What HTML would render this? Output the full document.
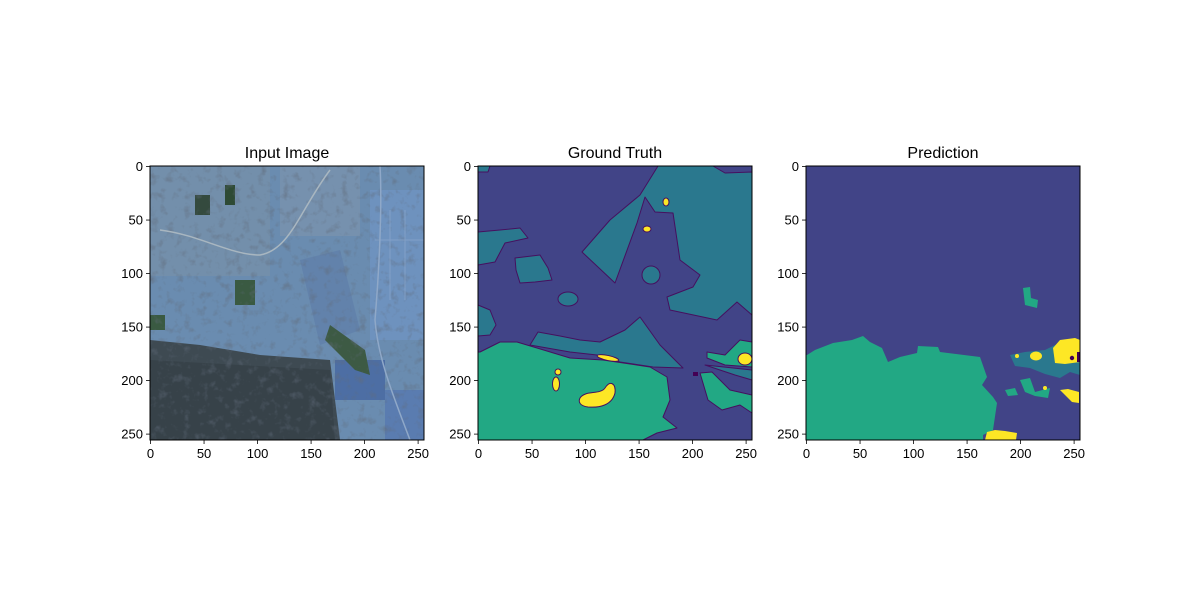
<!DOCTYPE html>
<html><head><meta charset="utf-8"><style>
body{margin:0;background:#fff}
svg text{font-family:"Liberation Sans","DejaVu Sans",sans-serif}
</style></head><body>
<svg id="fig" width="1200" height="600" viewBox="0 0 1200 600" xmlns="http://www.w3.org/2000/svg">
<defs>
<filter id="tex" x="0" y="0" width="100%" height="100%">
<feTurbulence type="fractalNoise" baseFrequency="0.12" numOctaves="3" seed="4"/>
<feColorMatrix type="matrix" values="0 0 0 0 0.12  0 0 0 0 0.15  0 0 0 0 0.2  0 0 0 -1.8 0.85"/>
</filter>
<clipPath id="c1"><rect x="150" y="166" width="274" height="274"/></clipPath>
</defs>
<rect width="1200" height="600" fill="#fff"/>

<!-- Panel 1: input image -->
<g clip-path="url(#c1)">
<rect x="150" y="166" width="274" height="274" fill="#6a8cb0"/>
<rect x="150" y="166" width="120" height="110" fill="#7890aa" opacity="0.7"/>
<rect x="280" y="166" width="80" height="70" fill="#7f95ae" opacity="0.6"/>
<rect x="370" y="190" width="54" height="150" fill="#6f93c2" opacity="0.8"/>
<polygon points="150,340 200,345 260,355 330,360 340,440 150,440" fill="#3e4a52"/>
<polygon points="150,360 330,370 335,440 150,440" fill="#374249"/>
<rect x="335" y="360" width="50" height="40" fill="#4d6ea4"/>
<rect x="385" y="390" width="40" height="50" fill="#5a7cb0"/>
<polygon points="300,260 340,250 360,330 320,345" fill="#5f7eaa" opacity="0.7"/>
<rect x="195" y="195" width="15" height="20" fill="#344a3e"/>
<rect x="225" y="185" width="10" height="20" fill="#2e4a34"/>
<rect x="235" y="280" width="20" height="25" fill="#3a5a42"/>
<polygon points="330,325 365,350 370,375 355,370 325,340" fill="#3d5a44"/>
<rect x="150" y="315" width="15" height="15" fill="#3a5a42"/>
<rect x="150" y="166" width="274" height="274" filter="url(#tex)" opacity="0.8"/>
<path d="M160,230 C200,235 230,255 260,255 C290,250 300,210 330,170" stroke="#a8b6c0" stroke-width="1.5" fill="none"/>
<path d="M380,166 C382,200 380,260 375,320 C378,360 395,400 410,440" stroke="#8fa8c8" stroke-width="1.5" fill="none"/>
<path d="M375,240 L424,240 M390,210 L390,300 M405,210 L405,300" stroke="#8aa6cc" stroke-width="1" fill="none" opacity="0.7"/>
</g>

<!-- Panel 2: ground truth -->
<g stroke="#46105f" stroke-width="1" stroke-linejoin="round">
<rect x="478" y="166" width="274" height="274" fill="#414487" stroke="none"/>
<polygon points="658,166 713,166 725,173 752,172 752,315 737,302 717,320 670,310 667,297 693,287 700,275 680,260 673,213 655,212 645,197 637,223 615,283 582,252 610,220 640,195" fill="#2a788e"/>
<ellipse cx="651" cy="275" rx="9" ry="9" fill="#2a788e"/>
<polygon points="478,232 500,230 520,228 528,238 505,243 495,262 478,265" fill="#2a788e"/>
<polygon points="515,258 540,255 548,268 552,280 535,282 520,283 516,270" fill="#2a788e"/>
<ellipse cx="568" cy="299" rx="10" ry="7" fill="#2a788e"/>
<polygon points="478,305 490,310 496,325 490,335 478,336" fill="#2a788e"/>
<polygon points="478,166 490,166 488,172 478,172" fill="#2a788e"/>
<polygon points="538,332 560,336 580,340 600,342 625,330 640,317 660,345 683,368 653,367 620,362 597,355 570,352 530,345" fill="#2a788e"/>
<polygon points="480,352 500,342 517,342 537,348 570,358 603,360 650,367 667,377 670,400 663,417 677,428 657,433 643,440 478,440 478,352" fill="#22a884"/>
<polygon points="707,352 725,355 740,340 752,342 752,367 725,365 707,358" fill="#22a884"/>
<polygon points="700,373 712,372 730,390 752,395 752,413 740,405 722,410 708,400" fill="#22a884"/>
<polygon points="705,365 752,370 752,380 735,375" fill="#2a788e"/>
<path d="M580,398 C585,390 600,395 605,388 C610,380 616,383 615,393 C612,405 600,408 588,407 C580,406 578,402 580,398 Z" fill="#fde725"/>
<ellipse cx="556" cy="384" rx="3.5" ry="7" fill="#fde725"/>
<ellipse cx="558" cy="372" rx="3" ry="3" fill="#fde725"/>
<ellipse cx="608" cy="358" rx="11" ry="2.5" fill="#fde725" transform="rotate(12 608 358)"/>
<ellipse cx="745" cy="359" rx="7" ry="6" fill="#fde725"/>
<ellipse cx="666" cy="202" rx="3" ry="4" fill="#fde725"/>
<ellipse cx="647" cy="229" rx="4" ry="3" fill="#fde725"/>
<rect x="693" y="372" width="5" height="4" fill="#440154" stroke="none"/>
</g>

<!-- Panel 3: prediction -->
<g>
<rect x="806" y="166" width="274" height="274" fill="#414487"/>
<polygon points="807,355 815,350 833,343 852,340 863,336 870,342 882,348 888,362 900,357 917,353 918,346 938,347 940,352 980,357 987,377 982,385 993,397 997,403 993,430 983,435 983,440 806,440 806,355" fill="#22a884"/>
<polygon points="1023,288 1030,287 1031,298 1038,300 1037,308 1025,305" fill="#22a884"/>
<polygon points="1010,355 1025,352 1045,350 1055,345 1075,338 1080,340 1080,375 1070,372 1060,378 1045,374 1030,368 1015,366" fill="#2a788e"/>
<polygon points="1020,380 1030,378 1035,392 1050,388 1048,398 1035,396 1025,392" fill="#22a884"/>
<polygon points="1005,390 1015,388 1018,395 1008,396" fill="#22a884"/>
<polygon points="1053,348 1060,340 1075,338 1080,340 1080,362 1065,364 1055,363" fill="#fde725"/>
<ellipse cx="1036" cy="356" rx="6" ry="4.5" fill="#fde725"/>
<polygon points="1060,390 1068,389 1079,392 1079,403 1072,402" fill="#fde725"/>
<polygon points="987,432 995,430 1005,431 1017,433 1016,440 985,440" fill="#fde725"/>
<circle cx="1017" cy="356" r="2" fill="#fde725"/>
<circle cx="1045" cy="388" r="2" fill="#fde725"/>
<circle cx="1072" cy="358" r="2.2" fill="#440154"/>
<rect x="1077" y="352" width="3" height="10" fill="#440154"/>
</g>

<g id="axes"></g>

<script>
const tickValues = [0, 50, 100, 150, 200, 250];
const panelTitles = ["Input Image", "Ground Truth", "Prediction"];
const panelLefts = [150, 478, 806];
const imgSize = 256;
const top0 = 166, side = 274;
const NS = "http://www.w3.org/2000/svg";
const g = document.getElementById('axes');
function mk(t, a){const e=document.createElementNS(NS,t);for(const k in a)e.setAttribute(k,a[k]);g.appendChild(e);return e;}
panelLefts.forEach((L, i) => {
  const sx = v => L + (v + 0.5) * side / imgSize;
  const sy = v => top0 + (v + 0.5) * side / imgSize;
  const fr = mk('rect', {x:L, y:top0, width:side, height:side, fill:'none', stroke:'#000', 'stroke-width':1});
  
  
  const t = mk('text', {x:L + side/2, y:158, 'text-anchor':'middle', 'font-size':16, fill:'#000'});
  t.textContent = panelTitles[i];
  
  
  tickValues.forEach(v => {
    const x = sx(v), y = sy(v);
    mk('line', {x1:x, x2:x, y1:top0+side, y2:top0+side+4, stroke:'#000', 'stroke-width':0.8});
    const xl = mk('text', {x:x, y:top0+side+18, 'text-anchor':'middle', 'font-size':13, fill:'#000'});
    xl.textContent = v;
    
    
    mk('line', {x1:L-4, x2:L, y1:y, y2:y, stroke:'#000', 'stroke-width':0.8});
    const yl = mk('text', {x:L-7, y:y+4.5, 'text-anchor':'end', 'font-size':13, fill:'#000'});
    yl.textContent = v;
    
    
  });
});
</script>
</svg>
</body></html>
